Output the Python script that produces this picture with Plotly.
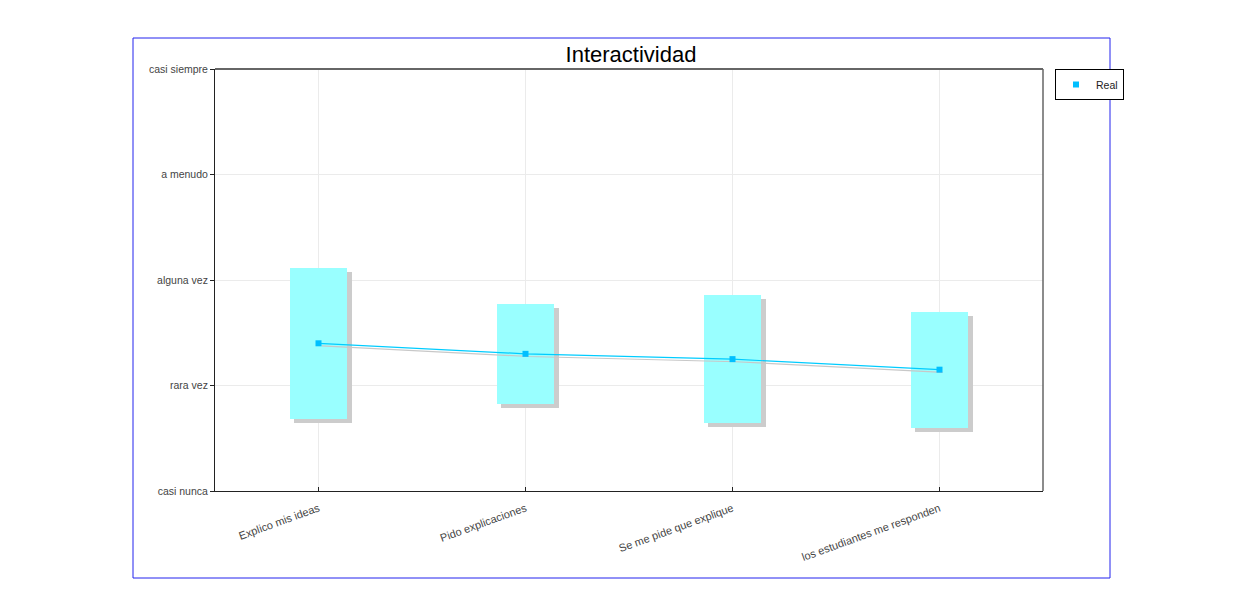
import plotly.graph_objects as go

categories = ["Explico mis ideas", "Pido explicaciones", "Se me pide que explique", "los estudiantes me responden"]
means = [1.40, 1.30, 1.25, 1.15]
stds = [0.715, 0.475, 0.61, 0.55]
level_labels = ["casi nunca", "rara vez", "alguna vez", "a menudo", "casi siempre"]

x = list(range(len(categories)))
lows = [m - s for m, s in zip(means, stds)]
heights = [2 * s for s in stds]

BOX_W = 0.28
SH_X = 0.02   # shadow offset (x units)
SH_Y = 0.037  # shadow offset (y units)

fig = go.Figure()

# box shadows
fig.add_trace(go.Bar(
    x=[i + SH_X for i in x], y=heights, base=[l - SH_Y for l in lows],
    width=BOX_W, marker=dict(color="#cccccc", line=dict(width=0)),
    showlegend=False, hoverinfo="skip"))
# boxes
fig.add_trace(go.Bar(
    x=x, y=heights, base=lows, width=BOX_W,
    marker=dict(color="#99ffff", line=dict(width=0)),
    showlegend=False, hoverinfo="skip"))
# line shadow
fig.add_trace(go.Scatter(
    x=[i + 0.015 for i in x], y=[m - 0.025 for m in means], mode="lines",
    line=dict(color="#c8c8c8", width=1.2), showlegend=False, hoverinfo="skip"))
# line
fig.add_trace(go.Scatter(
    x=x, y=means, mode="lines",
    line=dict(color="#00ccff", width=1.2), showlegend=False, hoverinfo="skip"))
# markers
fig.add_trace(go.Scatter(
    x=x, y=means, mode="markers", name="Real",
    marker=dict(symbol="square", size=6, color="#00bfff")))

fig.update_layout(
    width=1244, height=615,
    margin=dict(l=207, r=209, t=61, b=132),
    paper_bgcolor="white", plot_bgcolor="white",
    font=dict(family="Liberation Sans, Arial, sans-serif", size=11, color="#444444"),
    title=dict(text="Interactividad", x=623 / 1244, xanchor="center",
               y=1 - 46 / 615, yanchor="middle",
               font=dict(size=22, color="#000000", family="Liberation Sans, Arial, sans-serif")),
    barmode="overlay",
    bargap=0,
    showlegend=True,
    legend=dict(x=1.0145, y=1.0, xanchor="left", yanchor="top",
                bordercolor="#000000", borderwidth=1, bgcolor="white",
                font=dict(size=10.5, color="#222222"),
                itemwidth=30, tracegroupgap=0),
    xaxis=dict(range=[-0.5, len(categories) - 0.5], tickmode="array", tickvals=x,
               ticktext=categories, tickangle=-20, showgrid=True, gridcolor="#ebebeb",
               gridwidth=1, zeroline=False, showline=True, linecolor="#222222",
               linewidth=1, mirror=False, ticks="inside", ticklen=4, tickcolor="#222222",
               ticklabelstandoff=6,
               tickfont=dict(size=11, color="#444444")),
    yaxis=dict(range=[0, 4], tickmode="array", tickvals=list(range(len(level_labels))),
               ticktext=level_labels, showgrid=True, gridcolor="#ebebeb", gridwidth=1,
               zeroline=False, showline=True, linecolor="#222222", linewidth=1,
               mirror=False, ticks="outside", ticklen=4, tickcolor="#222222",
               tickfont=dict(size=10.5, color="#444444")),
    shapes=[
        # plot-area top/right border
        dict(type="line", xref="paper", yref="paper", x0=0, x1=1, y0=1, y1=1,
             line=dict(color="#666666", width=2)),
        dict(type="line", xref="paper", yref="paper", x0=1, x1=1, y0=0, y1=1,
             line=dict(color="#666666", width=1.5)),
        # blue chart frame
        dict(type="rect", xref="paper", yref="paper",
             x0=(133 - 215) / 828, x1=(1110 - 215) / 828,
             y0=(491 - 578) / 422, y1=(491 - 38) / 422,
             line=dict(color="#2222ee", width=1), fillcolor="rgba(0,0,0,0)", layer="below"),
    ],
)

fig.write_html("out.html")
